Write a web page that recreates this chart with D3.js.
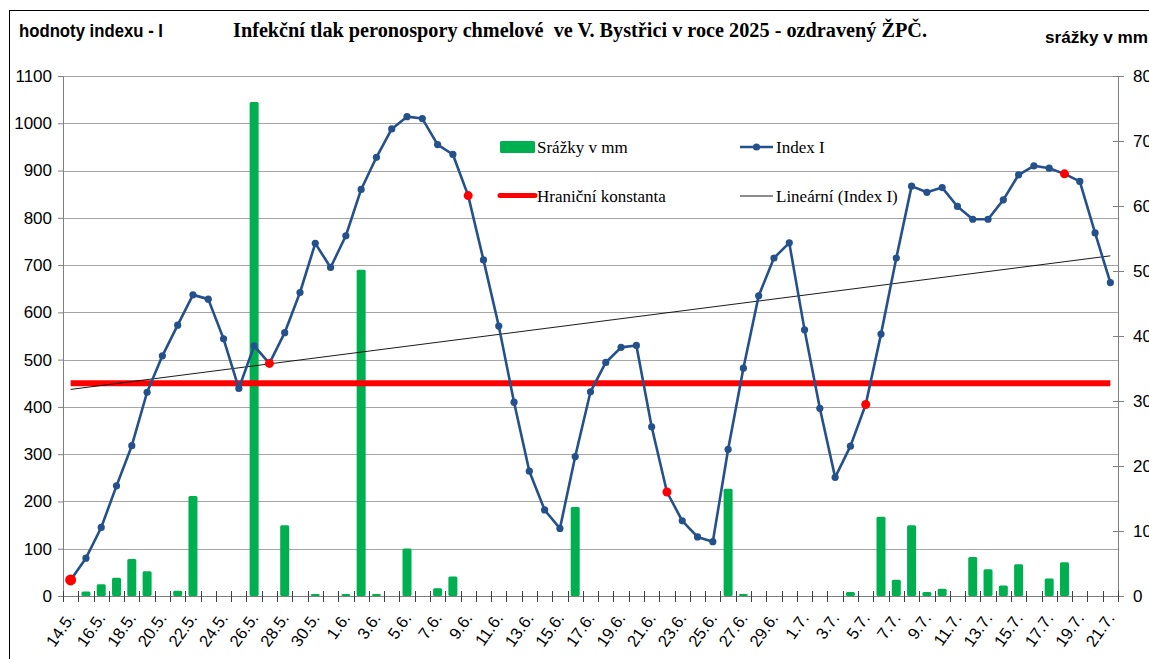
<!DOCTYPE html>
<html><head><meta charset="utf-8">
<script src="https://cdn.jsdelivr.net/npm/d3@7/dist/d3.min.js"></script>
<style>
html,body{margin:0;padding:0;background:#fff;}
svg{display:block;}
</style>
</head><body>
<svg id="chart" width="1149" height="659"></svg>
<script>
// ---- DATA ----
const dates = ["14.5.","15.5.","16.5.","17.5.","18.5.","19.5.","20.5.","21.5.","22.5.","23.5.","24.5.","25.5.","26.5.","27.5.","28.5.","29.5.","30.5.","31.5.",
"1.6.","2.6.","3.6.","4.6.","5.6.","6.6.","7.6.","8.6.","9.6.","10.6.","11.6.","12.6.","13.6.","14.6.","15.6.","16.6.","17.6.","18.6.","19.6.","20.6.","21.6.","22.6.","23.6.","24.6.","25.6.","26.6.","27.6.","28.6.","29.6.","30.6.",
"1.7.","2.7.","3.7.","4.7.","5.7.","6.7.","7.7.","8.7.","9.7.","10.7.","11.7.","12.7.","13.7.","14.7.","15.7.","16.7.","17.7.","18.7.","19.7.","20.7.","21.7."];
const indexI = [34,80,145,233,318,431,508,573,637,628,544,439,529,492,557,642,746,695,
762,860,928,988,1014,1010,955,934,847,711,571,410,264,182,143,295,432,494,526,530,358,220,159,125,115,310,482,635,715,747,
563,397,251,317,405,554,715,867,854,864,824,797,797,838,891,910,905,893,877,768,663];
const srazky = [0,0.7,1.8,2.8,5.7,3.8,0,0.8,15.4,0,0,0,76,0,10.9,0,0.3,0,
0.3,50.2,0.3,0,7.3,0,1.2,3.0,0,0,0,0,0,0,0,13.7,0,0,0,0,0,0,0,0,0,16.5,0.3,0,0,0,
0,0,0,0.6,0,12.2,2.5,10.9,0.6,1.1,0,6.0,4.1,1.6,4.9,0,2.7,5.2,0,0,0];
const redMarked = ["14.5.","27.5.","9.6.","22.6.","5.7.","18.7."];
const hranicniKonstanta = 450;
const leftTicks = [0,100,200,300,400,500,600,700,800,900,1000,1100];
const rightTicks = [0,10,20,30,40,50,60,70,80];
const tickLabels = dates.filter((d,i)=>i%2===0);

const title = "Infekční tlak peronospory chmelové  ve V. Bystřici v roce 2025 - ozdravený ŽPČ.";
const leftTitle = "hodnoty indexu - I";
const rightTitle = "srážky v mm";

// ---- LAYOUT ----
const svg = d3.select("#chart");
const L = 63, R = 1118, T = 76, B = 596;
const blue = "#24508C", green = "#00B050", red = "#FF0000";

const step = (R - L) / dates.length;
const xc = d => L + step * (dates.indexOf(d) + 0.5);
const yL = d3.scaleLinear().domain([0, 1100]).range([B, T]);
const yR = d3.scaleLinear().domain([0, 80]).range([B, T]);
const barW = 9;

// frame
svg.append("rect").attr("x", 9.5).attr("y", 10.5).attr("width", 1200).attr("height", 700)
  .attr("fill", "none").attr("stroke", "#000").attr("stroke-width", 1);

// gridlines
svg.append("g").selectAll("line").data(leftTicks.filter(t => t > 0)).join("line")
  .attr("x1", L).attr("x2", R).attr("y1", d => Math.round(yL(d)) + 0.5).attr("y2", d => Math.round(yL(d)) + 0.5)
  .attr("stroke", "#a6a6a6").attr("stroke-width", 1);

// left axis
const axL = d3.axisLeft(yL).tickValues(leftTicks).tickFormat(d3.format("d")).tickSize(5).tickPadding(6);
const gL = svg.append("g").attr("transform", `translate(${L},0)`).call(axL);
gL.select(".domain").attr("stroke", "#7f7f7f");
gL.selectAll(".tick line").attr("stroke", "#7f7f7f");
gL.selectAll("text").attr("font-family", "Liberation Sans, Arial, sans-serif").attr("font-size", 17).attr("fill", "#000");

// right axis
const axR = d3.axisRight(yR).tickValues(rightTicks).tickFormat(d3.format("d")).tickSize(6).tickPadding(9);
const gR = svg.append("g").attr("transform", `translate(${R},0)`).call(axR);
gR.select(".domain").attr("stroke", "#7f7f7f");
gR.selectAll(".tick line").attr("stroke", "#7f7f7f").attr("x1", -5);
gR.selectAll("text").attr("font-family", "Liberation Sans, Arial, sans-serif").attr("font-size", 17).attr("fill", "#000");

// bars
svg.append("g").selectAll("rect").data(dates.map((d, i) => ({d, v: srazky[i]})).filter(o => o.v > 0)).join("rect")
  .attr("x", o => xc(o.d) - barW / 2).attr("width", barW)
  .attr("y", o => yR(o.v)).attr("height", o => B - yR(o.v))
  .attr("rx", 1.5).attr("fill", green);

// x axis
const gX = svg.append("g");
gX.append("line").attr("x1", L).attr("x2", R).attr("y1", B + 0.5).attr("y2", B + 0.5).attr("stroke", "#7f7f7f");
gX.selectAll("line.t").data(d3.range(dates.length + 1)).join("line").attr("class", "t")
  .attr("x1", i => Math.round(L + step * i) + 0.5).attr("x2", i => Math.round(L + step * i) + 0.5)
  .attr("y1", B - 5).attr("y2", B + 6).attr("stroke", "#404040");
gX.selectAll("text").data(tickLabels).join("text")
  .attr("transform", d => `translate(${xc(d) + 5},618) rotate(-55)`)
  .attr("text-anchor", "end")
  .attr("font-family", "Liberation Sans, Arial, sans-serif").attr("font-size", 16.5).attr("fill", "#000")
  .text(d => d);

// threshold line
svg.append("line").attr("x1", xc(dates[0])).attr("x2", xc(dates[dates.length - 1]))
  .attr("y1", yL(hranicniKonstanta)).attr("y2", yL(hranicniKonstanta))
  .attr("stroke", red).attr("stroke-width", 6);

// linear trend (least squares over Index I)
const n = indexI.length;
const mx = d3.mean(d3.range(n)), my = d3.mean(indexI);
const slope = d3.sum(d3.range(n), i => (i - mx) * (indexI[i] - my)) / d3.sum(d3.range(n), i => (i - mx) ** 2);
const icpt = my - slope * mx;
svg.append("line").attr("x1", xc(dates[0])).attr("x2", xc(dates[n - 1]))
  .attr("y1", yL(icpt)).attr("y2", yL(icpt + slope * (n - 1)))
  .attr("stroke", "#000").attr("stroke-width", 0.9);

// index line
const line = d3.line().x((v, i) => xc(dates[i])).y(v => yL(v));
svg.append("path").datum(indexI).attr("d", line).attr("fill", "none")
  .attr("stroke", blue).attr("stroke-width", 2.6).attr("stroke-linejoin", "round");
svg.append("g").selectAll("circle").data(dates.map((d, i) => ({d, v: indexI[i], i}))).join("circle")
  .attr("cx", o => xc(o.d)).attr("cy", o => yL(o.v))
  .attr("r", o => redMarked.includes(o.d) ? (o.i === 0 ? 5.5 : 4.5) : 3.6)
  .attr("fill", o => redMarked.includes(o.d) ? red : blue);

// titles
const serif = "Liberation Serif, Times New Roman, serif";
const sans = "Liberation Sans, Arial, sans-serif";
svg.append("text").attr("x", 233).attr("y", 37).attr("font-family", serif).attr("font-weight", "bold")
  .attr("font-size", 20).attr("textLength", 694).attr("lengthAdjust", "spacingAndGlyphs")
  .style("white-space", "pre").attr("xml:space", "preserve").text(title);
svg.append("text").attr("x", 19).attr("y", 37).attr("font-family", sans).attr("font-weight", "bold")
  .attr("font-size", 18).attr("textLength", 144).attr("lengthAdjust", "spacingAndGlyphs").text(leftTitle);
svg.append("text").attr("x", 1045).attr("y", 43).attr("font-family", sans).attr("font-weight", "bold")
  .attr("font-size", 16).attr("textLength", 103).attr("lengthAdjust", "spacingAndGlyphs").text(rightTitle);

// legend
const lg = svg.append("g").attr("font-family", serif).attr("font-size", 17).attr("fill", "#000");
lg.append("rect").attr("x", 500).attr("y", 141).attr("width", 35).attr("height", 12).attr("rx", 1.5).attr("fill", green);
lg.append("text").attr("x", 537).attr("y", 153).text("Srážky v mm");
lg.append("line").attr("x1", 500).attr("x2", 535).attr("y1", 195.5).attr("y2", 195.5).attr("stroke", red).attr("stroke-width", 5).attr("stroke-linecap", "round");
lg.append("text").attr("x", 537).attr("y", 202).text("Hraniční konstanta");
lg.append("line").attr("x1", 740).attr("x2", 773).attr("y1", 147).attr("y2", 147).attr("stroke", blue).attr("stroke-width", 2.6);
lg.append("circle").attr("cx", 756.5).attr("cy", 147).attr("r", 3.6).attr("fill", blue);
lg.append("text").attr("x", 776).attr("y", 153).text("Index I");
lg.append("line").attr("x1", 740).attr("x2", 773).attr("y1", 196).attr("y2", 196).attr("stroke", "#000").attr("stroke-width", 0.9);
lg.append("text").attr("x", 776).attr("y", 202).text("Lineární (Index I)");
</script>
</body></html>
